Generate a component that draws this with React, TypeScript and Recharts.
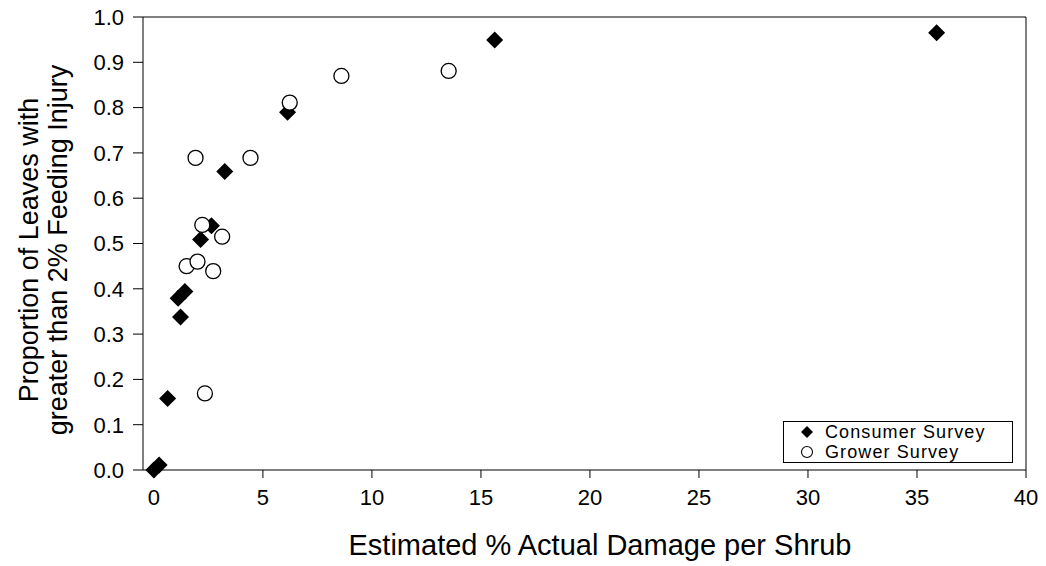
import React from 'react';
import { ScatterChart, Scatter, XAxis, YAxis, ReferenceLine } from 'recharts';

const consumerX = [0, 0.24, 0.63, 1.22, 1.11, 1.42, 2.14, 2.64, 3.25, 6.13, 15.63, 35.9];
const consumerY = [0, 0.011, 0.158, 0.338, 0.379, 0.394, 0.509, 0.539, 0.659, 0.79, 0.949, 0.965];
const growerX = [1.91, 4.43, 6.23, 2.22, 3.13, 1.5, 2.0, 2.72, 2.34, 8.6, 13.52];
const growerY = [0.689, 0.689, 0.811, 0.541, 0.515, 0.45, 0.46, 0.439, 0.169, 0.87, 0.881];
const xTicks = [0, 5, 10, 15, 20, 25, 30, 35, 40];
const yTicks = [0, 0.1, 0.2, 0.3, 0.4, 0.5, 0.6, 0.7, 0.8, 0.9, 1.0];
const seriesNames = ['Consumer Survey', 'Grower Survey'];

const consumer = consumerX.map((x, i) => ({ x, y: consumerY[i] }));
const grower = growerX.map((x, i) => ({ x, y: growerY[i] }));

const FONT = '"Liberation Sans", Arial, sans-serif';

const Diamond = (props: any) => {
  const { cx, cy } = props;
  const s = 8.5;
  return <path d={`M${cx},${cy - s}L${cx + s},${cy}L${cx},${cy + s}L${cx - s},${cy}Z`} fill="#000" />;
};
const Circ = (props: any) => {
  const { cx, cy } = props;
  return <circle cx={cx} cy={cy} r={7.5} fill="#fff" stroke="#000" strokeWidth={1.3} />;
};

const LegendBox = () => (
  <div
    style={{
      position: 'absolute',
      left: 783,
      top: 421,
      border: '1px solid #000',
      width: 230,
      height: 42,
      background: '#fff',
      fontFamily: FONT,
      fontSize: 18,
      letterSpacing: 1.1,
      color: '#000',
      boxSizing: 'border-box',
      padding: '0 0 0 15px',
      lineHeight: '20px',
    }}
  >
    <div style={{ display: 'flex', alignItems: 'center', height: 20 }}>
      <svg width={16} height={16} style={{ marginRight: 10 }}>
        <path d="M8,2L14,8L8,14L2,8Z" fill="#000" />
      </svg>
      <span>{seriesNames[0]}</span>
    </div>
    <div style={{ display: 'flex', alignItems: 'center', height: 20 }}>
      <svg width={16} height={16} style={{ marginRight: 10 }}>
        <circle cx={8} cy={8} r={5.5} fill="#fff" stroke="#000" strokeWidth={1.1} />
      </svg>
      <span>{seriesNames[1]}</span>
    </div>
  </div>
);

export default function App() {
  return (
    <div style={{ position: 'absolute', left: 0, top: 0, width: 1046, height: 566, background: '#fff' }}>
      <ScatterChart width={1046} height={566} margin={{ top: 17, right: 20, bottom: 16, left: 0 }}>
        <XAxis
          type="number"
          dataKey="x"
          domain={[-0.5, 40]}
          ticks={xTicks}
          allowDataOverflow
          height={80}
          tickSize={8}
          tickMargin={11}
          stroke="#000"
          tick={{ fill: '#000', fontSize: 22, fontFamily: FONT }}
          label={{
            content: () => (
              <text x={600} y={545} textAnchor="middle" dominantBaseline="central" fontSize={29} fontFamily={FONT} fill="#000">
                Estimated % Actual Damage per Shrub
              </text>
            ),
          }}
        />
        <YAxis
          type="number"
          dataKey="y"
          domain={[0, 1]}
          ticks={yTicks}
          width={143}
          tickSize={10}
          tickMargin={9}
          stroke="#000"
          tickFormatter={(v: number) => v.toFixed(1)}
          tick={{ fill: '#000', fontSize: 22, fontFamily: FONT }}
          label={{
            content: () => (
              <text transform="translate(38,250) rotate(-90)" textAnchor="middle" fontSize={27} fontFamily={FONT} fill="#000">
                <tspan x={0} dy={0}>Proportion of Leaves with</tspan>
                <tspan x={0} dy={29}>greater than 2% Feeding Injury</tspan>
              </text>
            ),
          }}
        />
        <ReferenceLine y={1} stroke="#000" strokeWidth={1} />
        <ReferenceLine x={40} stroke="#000" strokeWidth={1} />
        <Scatter name={seriesNames[0]} data={consumer} shape={Diamond} isAnimationActive={false} />
        <Scatter name={seriesNames[1]} data={grower} shape={Circ} isAnimationActive={false} />
      </ScatterChart>
      <LegendBox />
    </div>
  );
}
